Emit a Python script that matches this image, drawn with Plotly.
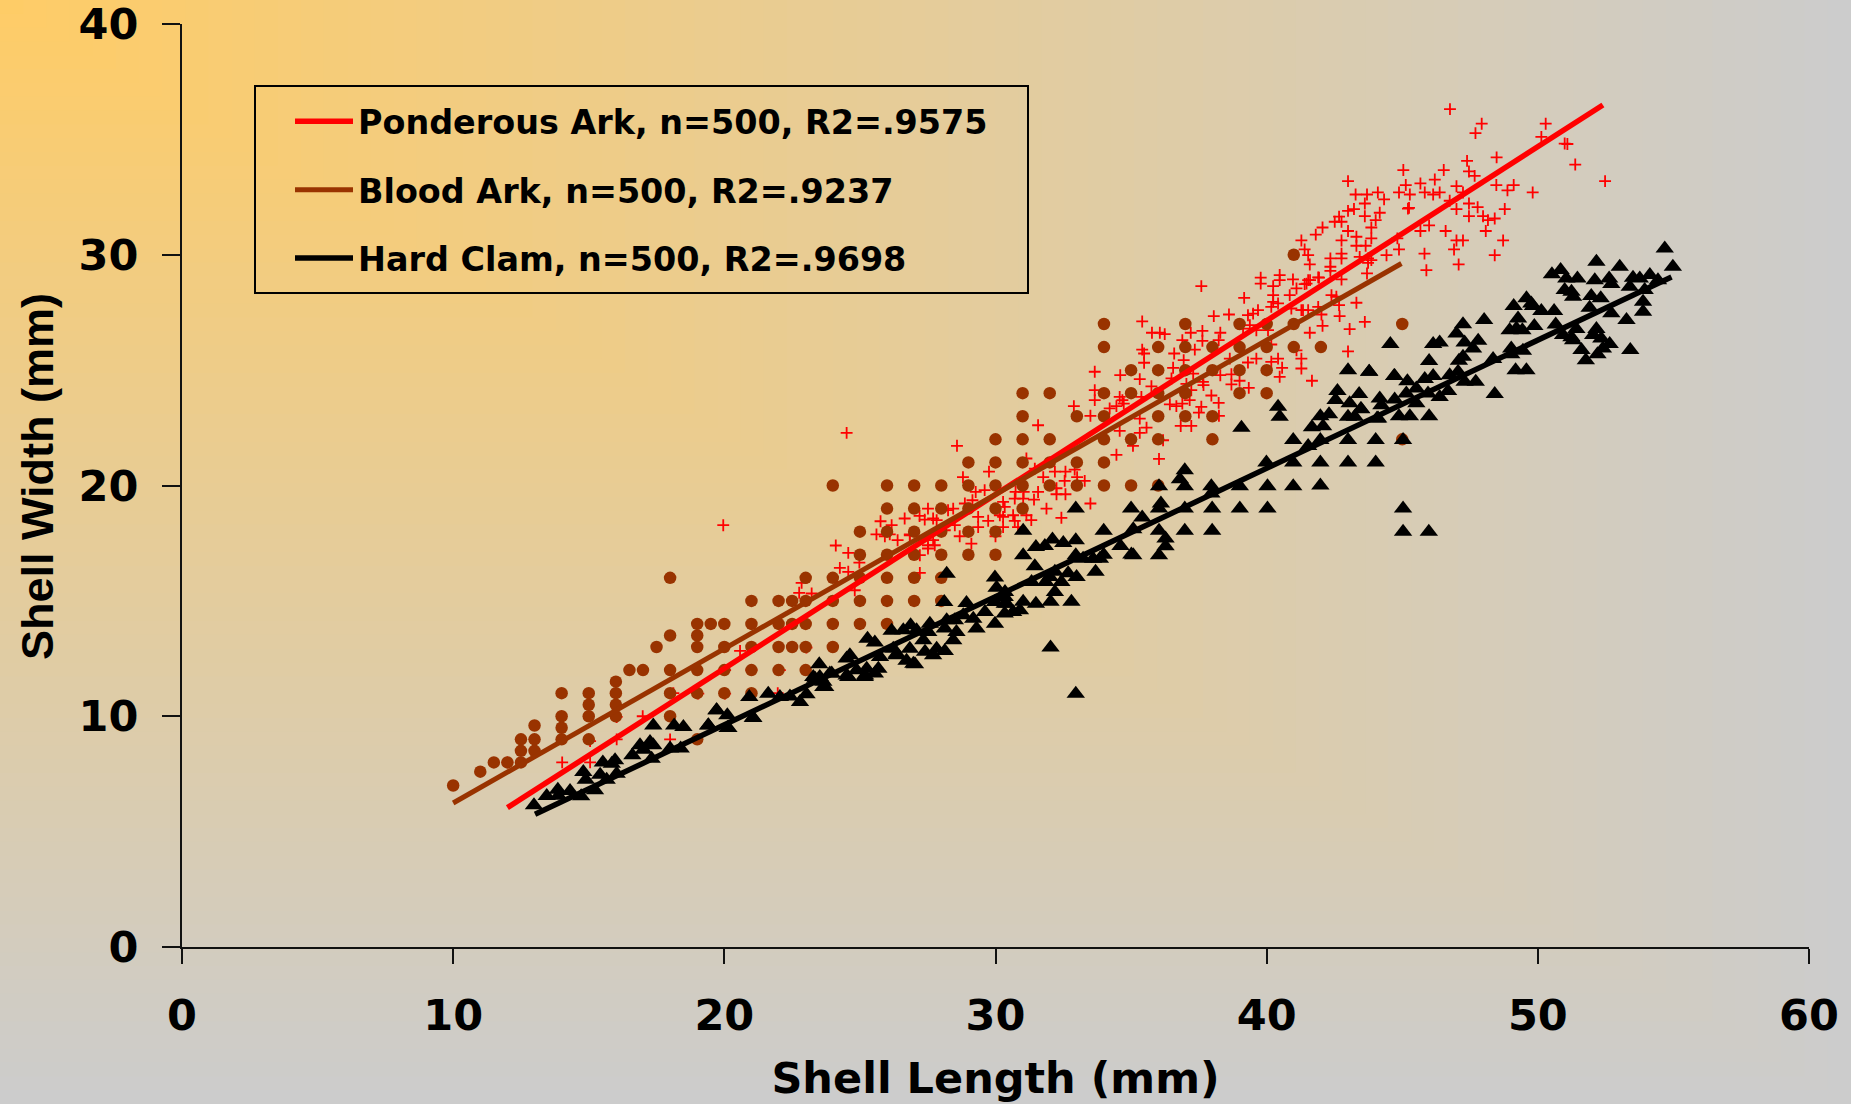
import base64
import plotly.graph_objects as go

x_ticks = [0, 10, 20, 30, 40, 50, 60]
y_ticks = [0, 10, 20, 30, 40]
legend_labels = ["Ponderous Ark, n=500, R2=.9575", "Blood Ark, n=500, R2=.9237", "Hard Clam, n=500, R2=.9698"]

ponderous_fit = [(12.0, 6.04), (52.4, 36.49)]
blood_fit = [(10.0, 6.24), (44.97, 29.62)]
clam_fit = [(13.02, 5.75), (54.93, 29.04)]

ponderous_points = [
(46.76,36.31),(47.93,35.68),(47.7,35.27),(50.29,35.68),(50.13,35.11),(50.99,34.82),(51.09,34.8),(51.38,33.91),(52.48,33.19),
(48.48,34.22),(47.39,34.07),(45.04,33.67),(46.53,33.67),(47.46,33.61),(47.67,33.42),(43.0,33.19),(46.2,33.26),(45.13,33.02),
(45.67,33.09),(47.0,32.97),(48.47,33.02),(49.11,33.02),(48.88,32.79),(49.81,32.7),(43.28,32.61),(43.7,32.61),(44.1,32.7),
(44.88,32.7),(45.28,32.61),(45.83,32.7),(46.14,32.61),(46.38,32.7),(47.24,32.7),(43.62,32.22),(44.33,32.4),(46.75,32.34),
(43.22,31.98),(43.0,31.9),(45.21,32.0),(45.25,32.03),(47.0,31.98),(47.46,32.22),(47.78,32.06),(48.78,31.98),(43.62,31.67),
(44.17,31.82),(42.67,31.65),(42.51,31.43),(42.76,31.43),(44.02,31.5),(47.46,31.67),(47.98,31.67),(48.16,31.5),(48.41,31.57),
(45.99,31.27),(42.06,31.18),(43.86,31.18),(41.81,30.87),(43.0,31.03),(45.67,31.03),(46.6,31.03),(48.08,31.03),(43.31,30.78),
(42.76,30.62),(43.86,30.71),(44.82,30.71),(47.0,30.62),(47.24,30.62),(48.72,30.62),(41.28,30.62),(41.4,30.23),(43.31,30.39),
(43.65,30.39),(44.88,30.23),(46.91,30.23),(41.53,29.98),(42.35,29.84),(42.76,30.05),(42.76,29.84),(43.43,29.91),(43.74,29.84),
(44.42,29.98),(45.82,30.05),(48.41,29.98),(42.35,29.48),(42.35,29.3),(41.59,29.58),(43.74,29.65),(43.86,29.77),(47.08,29.58),
(45.89,29.33),(43.7,29.19),(42.76,28.93),(41.9,29.02),(41.53,28.9),(41.4,28.73),(42.39,28.25),(42.57,28.18),(42.67,27.82),
(43.31,27.92),(41.9,27.74),(41.34,27.6),(41.53,27.6),(42.02,27.41),(42.69,27.34),(43.62,27.09),(42.06,26.92),(43.06,26.78),
(41.59,26.62),(43.0,25.81),(41.28,25.5),(41.28,25.07),(41.67,24.54),
(37.59,28.64),(39.78,29.01),(39.78,28.75),(40.48,29.12),(40.48,28.9),(40.97,28.93),(41.47,28.75),(41.6,28.9),(41.93,29.01),
(40.24,28.64),(40.24,28.25),(41.1,28.54),(39.17,28.13),(40.24,27.96),(40.42,27.89),(40.17,27.74),(40.85,28.25),(40.91,27.67),
(41.28,27.6),(39.68,27.6),(39.31,27.38),(39.5,27.45),(39.13,26.8),(39.38,26.95),(40.05,26.73),(39.62,26.73),(38.61,27.41),
(38.05,27.34),(35.41,27.11),(35.77,26.62),(36.06,26.62),(36.24,26.56),(37.2,26.62),(37.63,26.7),(38.29,26.62),(38.23,26.3),
(36.89,26.3),(37.63,26.27),(37.35,25.89),(35.41,25.89),(35.48,25.72),(36.59,25.72),(35.48,25.32),(36.94,25.43),(36.55,25.1),
(38.64,25.5),(38.7,24.82),(38.29,24.78),(38.7,24.38),(39.0,24.54),(39.34,24.23),(37.65,24.49),(37.67,24.35),(37.29,24.85),
(41.1,25.86),(40.57,25.1),(40.48,24.71),(40.42,25.5),(40.17,25.36),(39.62,25.5),(39.31,25.33),(40.17,26.11),
(33.66,24.93),(34.6,24.78),(35.32,24.61),(36.49,24.64),(35.75,24.3),(37.04,24.4),(37.22,24.13),(37.96,23.9),(38.23,23.58),
(37.59,23.41),(37.5,23.16),(38.24,23.02),(33.66,24.13),(33.66,23.7),(34.58,23.84),(34.68,23.7),(34.73,23.55),(34.46,23.44),
(34.21,23.34),(35.38,23.84),(32.89,23.44),(33.5,23.02),(36.43,23.52),(36.67,23.44),(36.89,23.55),(37.16,23.7),(36.83,22.58),
(37.22,22.58),(35.32,22.9),(35.57,22.51),(34.58,22.37),(35.32,22.28),(36.18,21.96),(35.07,21.72),(34.46,21.33),(36.03,21.15),
(31.57,22.61),(28.58,21.72),(31.14,21.17),(29.76,20.6),(28.8,20.36),(31.45,20.73),(32.19,20.6),(32.58,20.6),(32.92,20.69),
(31.76,20.36),(32.55,20.2),(33.01,20.36),(33.29,20.2),(32.25,19.88),(32.25,19.62),(32.58,19.62),(31.57,19.72),(31.42,19.39),
(31.04,19.72),(30.74,19.72),(30.71,19.43),(31.02,19.43),(33.5,19.22),(31.88,19.0),(32.43,18.6),(29.6,19.8),(29.27,19.72),
(29.15,19.36),(28.87,19.22),(30.28,19.29),(30.34,19.07),(28.44,19.0),(28.25,18.93),(27.51,19.0),(26.65,18.57),(27.2,18.68),
(27.7,18.57),(27.39,18.52),(27.83,18.5),(29.36,18.64),(29.36,18.2),(29.73,18.47),(30.16,18.71),(30.65,18.71),(31.14,18.71),
(30.28,18.64),(30.71,18.47),(31.32,18.5),(30.28,18.2),(30.83,18.2),(30.0,17.8),(28.13,18.06),(28.5,18.28),(28.68,17.8),
(29.11,17.48),(26.84,17.84),(27.7,17.63),(27.51,17.41),(27.76,17.41),(27.51,17.27),(27.21,16.98),(27.21,16.21),
(24.51,22.28),(19.96,18.28),(25.76,18.45),(26.17,18.28),(25.61,17.88),(25.92,17.8),(26.1,17.88),(26.39,17.63),(26.84,17.88),
(24.57,17.08),(24.11,17.4),(24.98,16.66),(24.26,16.43),(24.57,16.26),(24.08,15.82),(22.85,15.78),(22.76,15.35),(23.22,15.32),
(24.81,15.46),(20.58,12.83),(23.03,12.98),(22.05,12.0),(21.0,12.0),(20.03,10.98),(19.04,10.98),(21.97,11.0),(18.12,11.0),
(16.99,10.0),(16.03,9.97),(20.03,12.0),(18.0,9.0),(16.03,9.0),(15.05,8.92),(14.02,8.0),(15.05,8.0),(12.0,8.0),
]

blood_points = [
(10,7),(11,7.6),(11.5,8),(12,8),(12.5,8),(12.5,8.5),(13,8.5),(12.5,9),(13,9),(14,9),(15,9),(19,9),(13,9.6),(14,9.5),
(14,10),(15,10),(16,10),(18,10),(15,10.5),(16,10.5),(14,11),(15,11),(16,11),(18,11),(19,11),(20,11),(21,11),(16,11.5),
(16.5,12),(17,12),(18,12),(19,12),(20,12),(21,12),(22,12),(23,12),
(17.5,13),(19,13),(20,13),(21,13),(22,13),(22.5,13),(23,13),(24,13),(18,13.5),(19,13.5),
(19,14),(19.5,14),(20,14),(21,14),(22,14),(22.5,14),(23,14),(24,14),(25,14),(26,14),
(21,15),(22,15),(22.5,15),(23,15),(24,15),(25,15),(26,15),(27,15),(28,15),
(18,16),(23,16),(24,16),(25,16),(26,16),(27,16),(28,16),
(25,17),(26,17),(27,17),(28,17),(29,17),(30,17),(25,18),(26,18),(27,18),(28,18),(29,18),(30,18),
(26,19),(27,19),(28,19),(29,19),(30,19),(31,19),
(24,20),(26,20),(27,20),(28,20),(29,20),(30,20),(31,20),(32,20),(33,20),(34,20),(35,20),(36,20),
(29,21),(30,21),(31,21),(32,21),(33,21),(34,21),(30,22),(31,22),(32,22),(34,22),(35,22),(36,22),(38,22),(45,22),
(31,23),(33,23),(34,23),(36,23),(37,23),(38,23),(31,24),(32,24),(34,24),(35,24),(36,24),(37,24),(39,24),(40,24),
(35,25),(36,25),(37,25),(38,25),(39,25),(40,25),(34,26),(36,26),(37,26),(38,26),(39,26),(40,26),(41,26),(42,26),
(34,27),(37,27),(39,27),(40,27),(41,27),(45,27),(41,30),
]

clam_points = [
(54.68,30.27),(54.98,29.48),(52.16,29.7),(53.02,29.48),(50.52,29.16),(50.84,29.34),(51.05,28.97),(51.46,28.97),(52.1,28.9),
(52.63,28.97),(52.71,28.73),(53.51,29.0),(53.76,28.97),(54.13,29.12),(54.43,28.9),(53.39,28.61),(53.94,28.47),(50.99,28.47),
(51.24,28.4),(51.3,28.18),(49.58,28.11),(49.76,27.89),(49.82,27.78),(50.13,27.56),(50.6,27.56),(51.97,28.21),(52.32,28.11),
(51.91,27.7),(49.11,27.78),(52.71,27.46),(53.88,27.96),(53.88,27.53),(53.27,27.17),(49.27,27.24),(49.87,26.91),(50.66,26.98),
(48.96,26.73),(49.21,26.8),(49.43,26.73),(48.02,27.17),(47.24,26.99),(47.0,26.59),(47.8,26.27),(47.3,26.2),(47.61,25.94),
(47.24,25.58),(46.14,26.13),(46.38,26.2),(44.56,26.13),(49.02,25.94),(49.45,25.84),(49.02,25.69),(51.42,26.78),(50.93,26.52),
(51.24,26.42),(51.3,26.3),(52.16,26.78),(52.04,26.52),(52.34,26.37),(52.65,26.13),(52.4,25.94),(51.61,25.87),(51.77,25.43),
(52.2,25.69),(53.41,25.87),(45.99,25.4),(48.35,25.48),(47.09,25.41),(49.18,25.0),(49.58,25.0),(46.75,24.78),(46.14,24.75),
(45.83,24.61),(45.19,24.52),(44.72,24.75),(43.0,25.0),(43.78,24.93),(47.06,24.93),(47.3,24.5),(47.71,24.5),(46.69,24.09),
(45.52,24.2),(45.15,23.99),(45.95,23.99),(46.38,23.84),(48.41,23.96),(42.61,24.1),(43.41,23.96),(42.54,23.7),(44.17,23.77),
(44.72,23.73),(43.06,23.56),(45.52,23.56),(43.47,23.31),(44.23,23.48),(41.98,23.0),(42.3,23.09),(43.0,22.98),(43.25,22.98),
(44.11,22.9),(44.88,23.0),(45.28,23.0),(45.99,23.0),(41.67,22.52),(42.08,22.57),(41.98,21.97),(41.53,21.71),(43.0,21.97),
(44.02,21.97),(45.03,21.97),(41.98,21.0),(43.0,21.0),(44.02,21.0),(41.98,20.0),(45.03,19.0),(45.03,18.0),(45.98,18.0),
(32.03,12.98),(32.96,10.98),(40.42,23.41),(40.48,22.98),(39.07,22.5),(40.98,21.97),(39.99,21.0),(40.98,21.0),
(37.96,19.97),(39.01,19.97),(40.03,19.97),(40.98,19.97),(36.98,20.66),(36.8,20.27),(36.98,19.97),(36.03,19.97),(37.96,19.65),
(32.96,19.0),(35.0,19.0),(36.1,19.22),(36.03,19.0),(36.98,19.0),(37.99,19.0),(39.01,19.0),(40.03,19.0),(35.41,18.61),
(31.02,18.04),(33.99,18.04),(35.08,18.1),(36.03,18.04),(36.98,18.04),(37.99,18.04),(32.96,17.63),(36.27,17.7),(36.27,17.37),
(31.02,16.98),(32.96,16.98),(34.61,17.38),(35.01,17.01),(35.08,16.98),(36.03,16.98),(33.99,17.0),(33.23,16.83),(33.6,16.83),
(33.85,16.83),(31.49,17.34),(31.82,17.38),(32.1,17.66),(32.5,17.51),(33.69,16.26),(32.99,16.04),(32.68,16.2),(31.33,15.82),
(32.0,16.04),(32.19,16.26),(32.43,15.82),(31.85,15.82),(32.19,15.39),(32.03,14.96),(32.8,14.96),(31.49,14.88),(31.02,14.96),
(30.34,15.17),(30.34,14.88),(30.65,14.52),(30.34,14.45),(28.2,16.18),(28.11,14.95),(28.93,14.91),(29.98,16.01),(30.04,15.57),
(31.45,16.5),(30.35,15.39),(29.98,14.95),(30.41,14.88),(30.9,14.59),(29.61,14.52),(29.18,14.23),(29.3,13.8),(29.98,14.01),
(28.81,14.38),(28.5,14.16),(28.44,13.29),(28.56,13.65),(28.2,14.16),(27.58,14.01),(26.87,13.94),(26.6,13.73),(27.09,13.73),
(28.13,13.8),(26.17,13.7),(25.28,13.36),(25.55,13.2),(27.52,13.65),(27.34,13.29),(26.84,12.93),(27.4,12.79),(27.7,12.64),
(27.83,12.93),(28.13,12.83),(26.35,12.64),(26.23,12.93),(26.72,12.4),(27.03,12.25),(25.74,12.57),(25.68,12.06),(25.25,12.06),
(25.55,11.85),(25.18,11.7),(24.88,11.99),(24.63,12.64),(24.51,12.5),(24.57,11.7),(23.89,11.85),(23.5,12.25),(23.28,11.7),
(23.52,11.7),(23.65,11.27),(23.72,11.27),(23.03,10.95),(22.79,10.62),(22.42,10.86),(22.05,10.83),(21.62,10.98),(20.92,10.83),
(21.07,9.92),(19.71,10.26),(20.11,10.04),(19.41,9.61),(20.12,9.49),(12.98,6.14),(13.45,6.54),(13.86,6.82),(14.31,6.76),
(14.72,6.53),(13.88,6.55),(14.8,7.58),(14.89,7.25),(15.23,6.79),(15.52,8.0),(15.42,7.47),(15.66,7.25),(15.85,7.94),(15.97,8.09),
(16.03,7.51),(16.61,8.31),(16.89,8.74),(17.26,8.88),(17.38,8.74),(17.32,8.16),(17.02,8.55),(17.38,9.6),(18.15,9.6),(18.49,9.53),
(18.39,8.6),(18.0,8.6),(19.41,9.6),(19.72,10.26),(20.15,9.49),(21.05,9.94),(23.35,11.63),(23.65,11.5),(23.96,11.85),
(24.51,11.77),(25.19,11.77),(26.36,12.71),(26.97,12.28),(43.78,24.93),(43.49,23.3),(44.07,22.9),(44.7,24.74),
]

RED, BROWN, BLACK = "#FF0000", "#993300", "#000000"
W, H = 1851, 1104
L, R, T, B = 182, 42, 24, 157
PW, PH = W - L - R, H - T - B
WIDE = "DejaVu Sans"
NARROW = "Liberation Sans"

# Office-style rectangular path gradient for the page background
start, end = (255, 204, 102), (204, 204, 204)
rects = []
steps = 80
for i in range(steps, 0, -1):
    t = i / steps
    col = [round(a + (b - a) * t) for a, b in zip(start, end)]
    rects.append(f'<rect width="{W*t:.1f}" height="{H*t:.1f}" fill="rgb({col[0]},{col[1]},{col[2]})"/>')
svg = (f'<svg xmlns="http://www.w3.org/2000/svg" width="{W}" height="{H}" viewBox="0 0 {W} {H}" '
       f'preserveAspectRatio="none">' + "".join(rects) + "</svg>")
bg = "data:image/svg+xml;base64," + base64.b64encode(svg.encode()).decode()


def xs(points):
    return [p[0] for p in points]


def ys(points):
    return [p[1] for p in points]


fig = go.Figure()
fig.add_trace(go.Scatter(x=xs(ponderous_points), y=ys(ponderous_points), mode="markers", showlegend=False,
                         marker=dict(symbol="cross-thin", size=8.5, color=RED, line=dict(color=RED, width=1.8))))
fig.add_trace(go.Scatter(x=xs(blood_points), y=ys(blood_points), mode="markers", showlegend=False,
                         marker=dict(symbol="circle", size=12.5, color=BROWN, line=dict(width=0))))
fig.add_trace(go.Scatter(x=xs(clam_points), y=ys(clam_points), mode="markers", showlegend=False,
                         marker=dict(symbol="triangle-up", size=16, color=BLACK, line=dict(width=0))))
for name, pts, col, w, grp in [(legend_labels[0], ponderous_fit, RED, 5.5, "a"),
                               (legend_labels[1], blood_fit, BROWN, 5, "b"),
                               (legend_labels[2], clam_fit, BLACK, 5.5, "c")]:
    fig.add_trace(go.Scatter(x=xs(pts), y=ys(pts), mode="lines", name=name, legendgroup=grp,
                             line=dict(color=col, width=w)))

axis_font = dict(family=WIDE, size=43, color="black", weight="bold")
fig.update_layout(
    width=W, height=H, autosize=False,
    margin=dict(l=L, r=R, t=T, b=B, autoexpand=False),
    paper_bgcolor="#CCCCCC", plot_bgcolor="rgba(0,0,0,0)",
    images=[dict(source=bg, xref="paper", yref="paper", x=-L / PW, y=1 + T / PH, sizex=W / PW, sizey=H / PH,
                 xanchor="left", yanchor="top", sizing="stretch", layer="below")],
    xaxis=dict(range=[0, 60], tickvals=x_ticks, showgrid=False, zeroline=False, showline=True, linecolor="#111111",
               linewidth=2, ticks="outside", ticklen=15, tickwidth=2, tickcolor="#111111", tickfont=axis_font,
               ticklabelstandoff=14, ticklabeloverflow="allow",
               title=dict(text="Shell Length (mm)", font=axis_font, standoff=24)),
    yaxis=dict(range=[0, 40], tickvals=y_ticks, showgrid=False, zeroline=False, showline=True, linecolor="#111111",
               linewidth=2, ticks="outside", ticklen=18, tickwidth=2, tickcolor="#111111", tickfont=axis_font,
               ticklabelstandoff=15, ticklabeloverflow="allow"),
    annotations=[dict(text="Shell Width (mm)", textangle=-90, xref="paper", yref="paper", showarrow=False,
                      x=(37 - L) / PW, y=1 - (477 - T) / PH, xanchor="center", yanchor="middle",
                      font=dict(family=NARROW, size=45, color="black", weight="bold"))],
    legend=dict(x=(298 - 8 - L) / PW, y=1 - (93 - T) / PH, xanchor="left", yanchor="top", bgcolor="rgba(0,0,0,0)",
                borderwidth=0, itemwidth=58, traceorder="grouped", tracegroupgap=22,
                font=dict(family=WIDE, size=33.4, color="black", weight="bold"), itemclick=False),
    shapes=[dict(type="rect", xref="paper", yref="paper", x0=(255 - L) / PW, x1=(1028 - L) / PW,
                 y0=1 - (86 - T) / PH, y1=1 - (293 - T) / PH, line=dict(color="black", width=2), layer="above")],
    showlegend=True,
)
fig.write_html("out.html", config=dict(displayModeBar=False),
               post_script="document.body.style.margin='0';document.body.style.overflow='hidden';")
